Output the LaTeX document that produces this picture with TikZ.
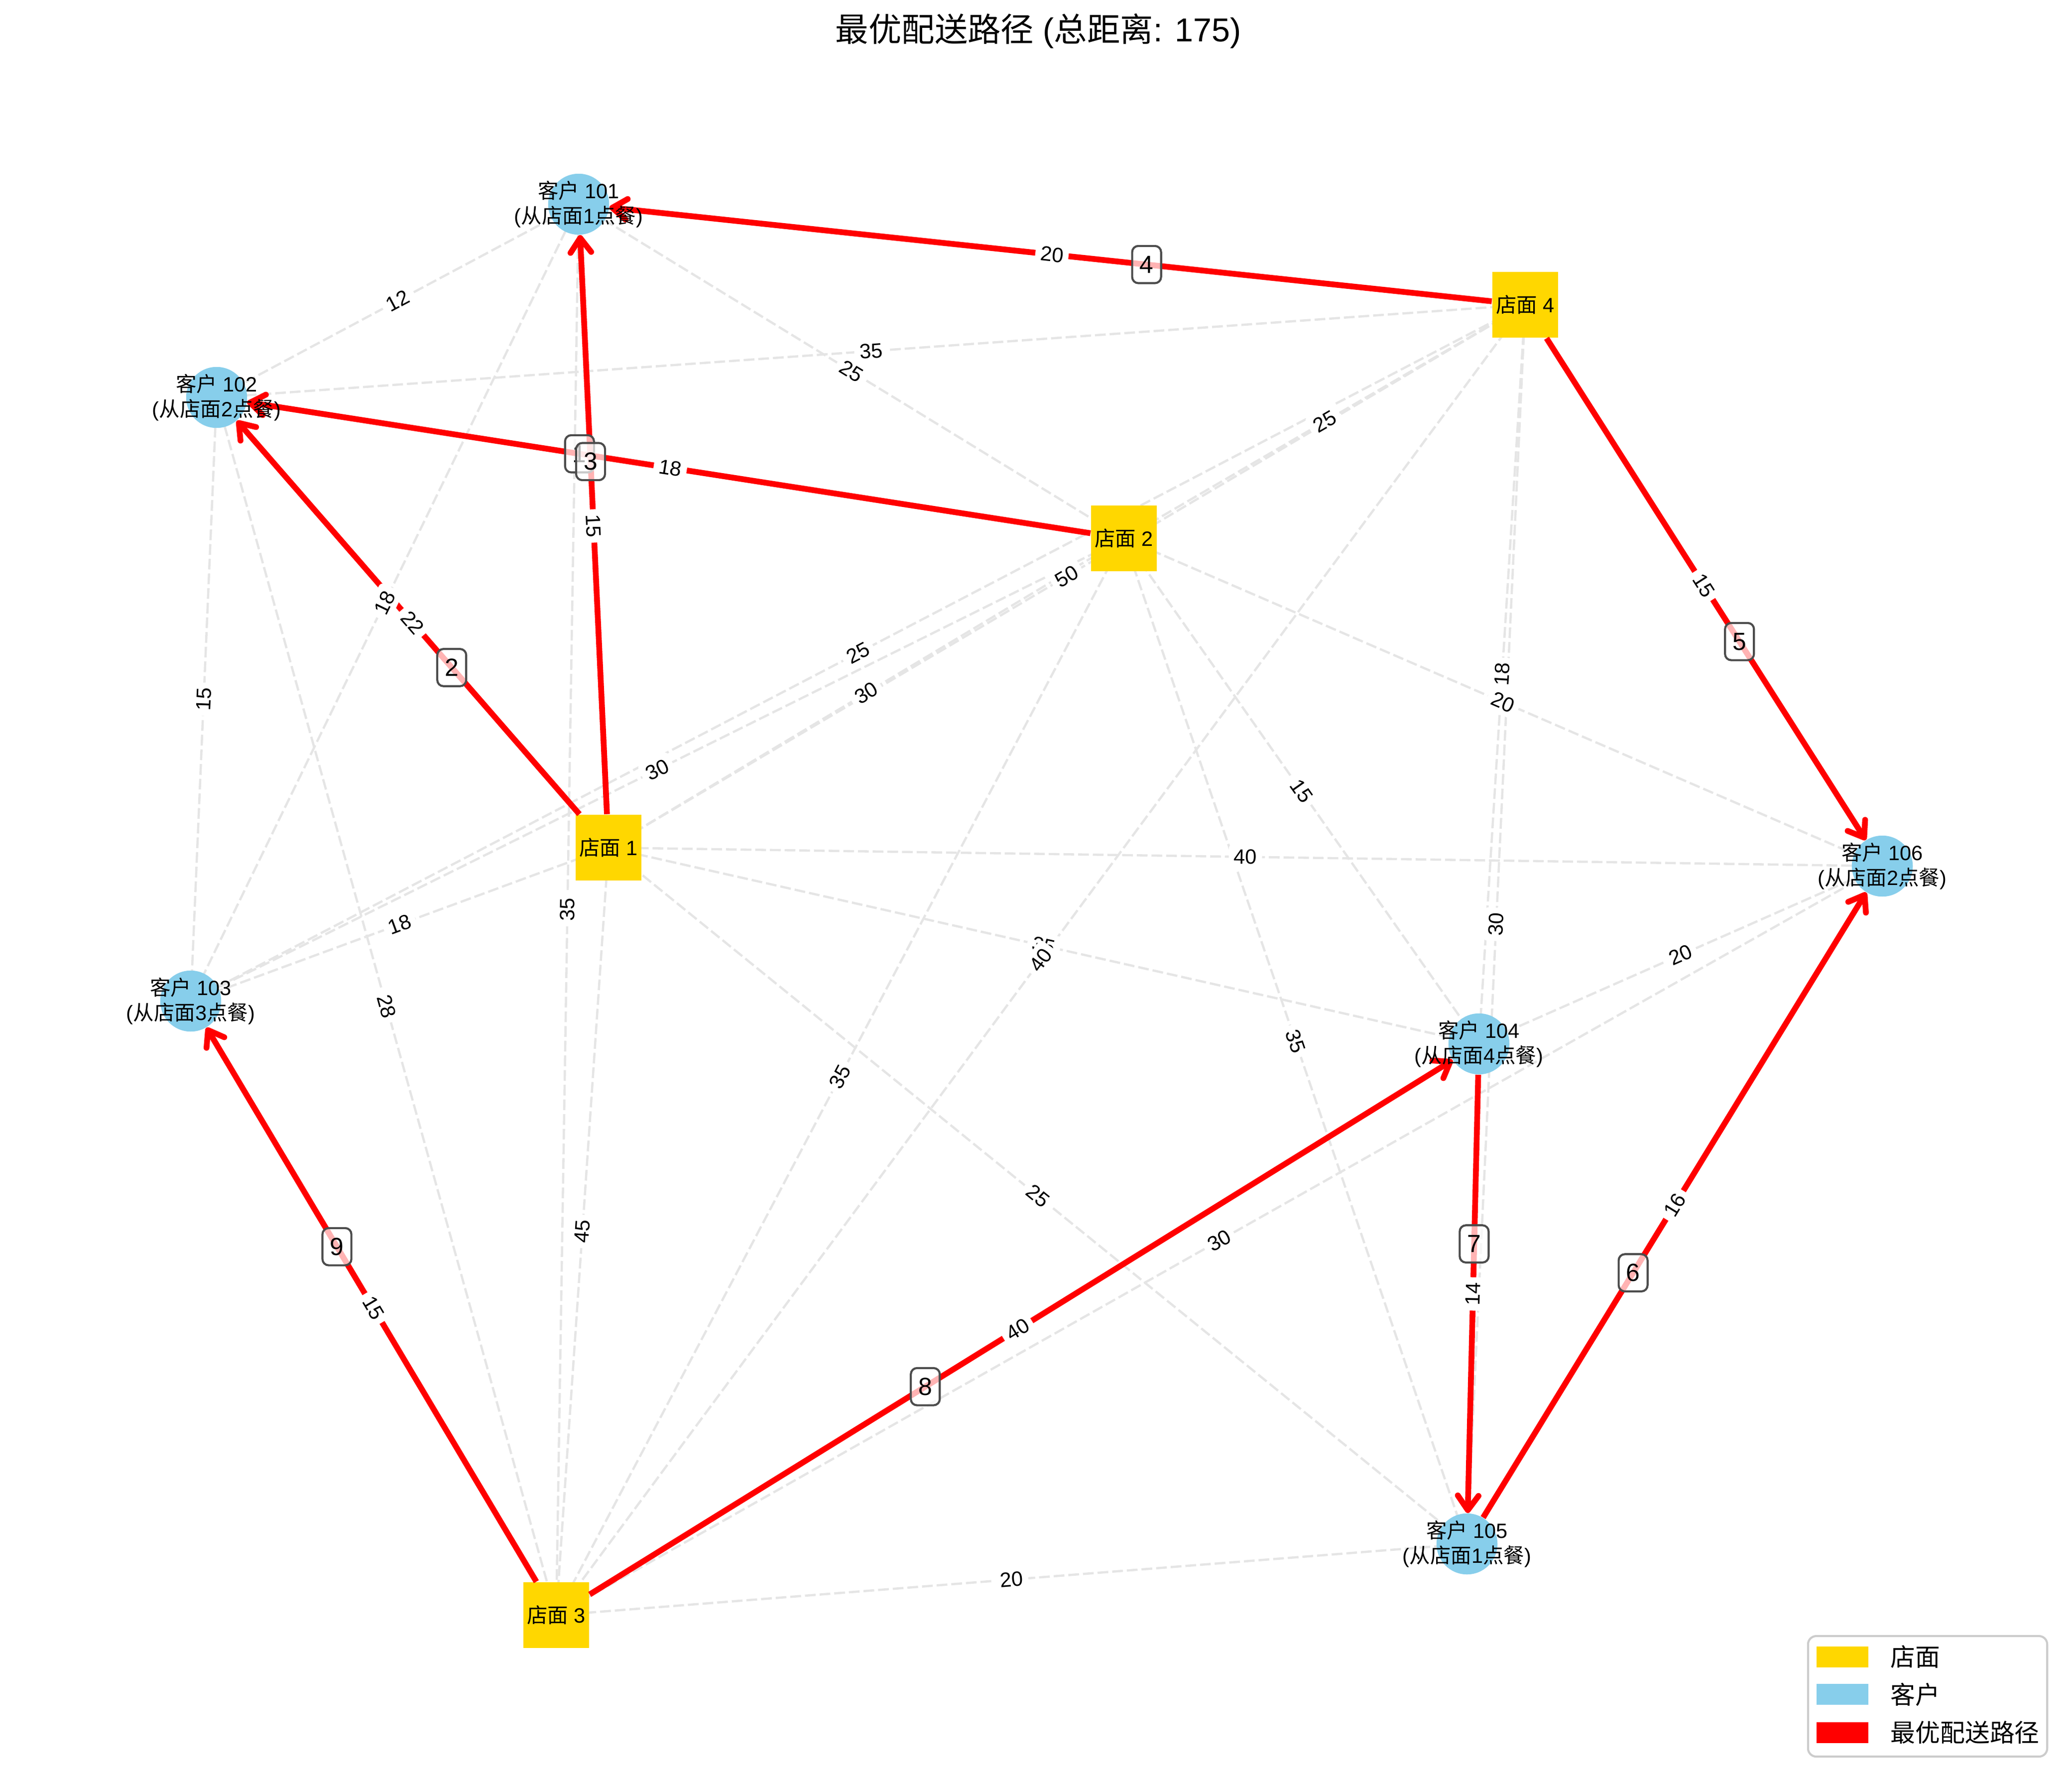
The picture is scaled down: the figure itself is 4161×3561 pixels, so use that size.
\documentclass[tikz,border=0pt]{standalone}
\usepackage{fontspec}
\setmainfont{Liberation Sans}
\newfontfamily\cjk{Noto Sans CJK SC}
\usetikzlibrary{calc,arrows.meta}
\pgfdeclarelayer{bg}
\pgfdeclarelayer{fg}
\pgfsetlayers{bg,main,fg}
\definecolor{storegold}{RGB}{255,215,0}
\definecolor{custblue}{RGB}{135,206,235}
\definecolor{routered}{RGB}{255,0,0}
\newcommand{\zh}[1]{{\cjk #1}}
\tikzset{
    store/.style={rectangle, fill=storegold, minimum size=32pt, inner sep=0pt},
    cust/.style={circle, fill=custblue, minimum size=29.5pt, inner sep=0pt},
    nlabel/.style={align=center, font=\fontsize{10}{12}\selectfont, inner sep=0pt},
    grayline/.style={draw=gray!20, line width=1.1pt, dash pattern=on 5.2pt off 1.9pt},
    route/.style={draw=routered, line width=2.8pt, -{Straight Barb[length=7pt,width=10pt,round]}},
    elabel/.style={midway, sloped, fill=white, inner sep=2.5pt, rounded corners=2pt, font=\fontsize{10}{12}\selectfont},
    stepbox/.style={draw=black!70, line width=1pt, rounded corners=3pt, fill=white, fill opacity=0.7, text opacity=1, font=\fontsize{12}{14}\selectfont, inner sep=0pt, minimum width=14pt, minimum height=18pt},
    legpatch/.style={minimum width=25pt, minimum height=10pt, inner sep=0pt},
    legtext/.style={anchor=west, font=\fontsize{12}{14}\selectfont, inner sep=0pt}
}

\begin{document}
\begin{tikzpicture}[x=0.08467mm, y=-0.08467mm]
\useasboundingbox (0,0) rectangle (4161,3561);

% stores and customers
\node[store] (s1) at (1222,1702) {};
\node[store] (s2) at (2257,1081) {};
\node[store] (s3) at (1117,3243) {};
\node[store] (s4) at (3063,612) {};
\node[cust] (c101) at (1162,410) {};
\node[cust] (c102) at (435,798) {};
\node[cust] (c103) at (383,2010) {};
\node[cust] (c104) at (2970,2096) {};
\node[cust] (c105) at (2946,3100) {};
\node[cust] (c106) at (3780,1739) {};

% all distances, dashed
\foreach \a/\b/\d in {c101/c102/12, c101/s2/25, c102/s4/35, s2/s4/25, s1/s4/50, c103/s4/25,
    s1/s2/30, s2/c103/30, s1/c103/18, c101/c103/18, c102/c103/15, c102/s3/28, c101/s3/35,
    s1/s3/45, s2/s3/35, s1/c104/35, s3/s4/40, s1/c106/40, s1/c105/25, s2/c104/15, s2/c105/35,
    s4/c105/30, s2/c106/20, s4/c104/18, c104/c106/20, s3/c106/30, s3/c105/20}{
  \begin{pgfonlayer}{bg}
    \draw[grayline] (\a.center) -- (\b.center);
  \end{pgfonlayer}
  \begin{pgfonlayer}{fg}
    \path (\a.center) -- (\b.center) node[elabel] {\d};
  \end{pgfonlayer}
}

% best route
\foreach \a/\b/\d in {s2/c102/18, s1/c102/22, s1/c101/15, s4/c101/20, s4/c106/15,
    c105/c106/16, c104/c105/14, s3/c104/40, s3/c103/15}{
  \draw[route] (\a) -- (\b);
  \begin{pgfonlayer}{fg}
    \path (\a.center) -- (\b.center) node[elabel] {\d};
  \end{pgfonlayer}
}

% names
\node[nlabel] (s1t) at (s1) {\zh{店面} 1};
\node[nlabel] (s2t) at (s2) {\zh{店面} 2};
\node[nlabel] (s3t) at (s3) {\zh{店面} 3};
\node[nlabel] (s4t) at (s4) {\zh{店面} 4};
\node[nlabel] (c101t) at (c101) {\zh{客户} 101\\(\zh{从店面}1\zh{点餐})};
\node[nlabel] (c102t) at (c102) {\zh{客户} 102\\(\zh{从店面}2\zh{点餐})};
\node[nlabel] (c103t) at (c103) {\zh{客户} 103\\(\zh{从店面}3\zh{点餐})};
\node[nlabel] (c104t) at (c104) {\zh{客户} 104\\(\zh{从店面}4\zh{点餐})};
\node[nlabel] (c105t) at (c105) {\zh{客户} 105\\(\zh{从店面}1\zh{点餐})};
\node[nlabel] (c106t) at (c106) {\zh{客户} 106\\(\zh{从店面}2\zh{点餐})};

% visiting order
\begin{pgfonlayer}{fg}
\foreach \n/\a/\b in {1/s2/c102, 2/c102/s1, 3/s1/c101, 4/c101/s4, 5/s4/c106,
    6/c106/c105, 7/c105/c104, 8/c104/s3, 9/s3/c103}
  \node[stepbox] (step\n) at ($(\a)!0.6!(\b)$) {\n};
\end{pgfonlayer}

% title
\node[font=\fontsize{16}{19}\selectfont] (title) at (2085,62) {\zh{最优配送路径} (\zh{总距离}: 175)};

% legend
\node[draw=black!20, fill=white, line width=1pt, rounded corners=4pt, minimum width=115.7pt, minimum height=58.3pt] (legend) at (3871,3406) {};
\node[legpatch, fill=storegold] (legstore) at (3700,3327) {};
\node[legtext] (legstoret) at (3796,3327) {\zh{店面}};
\node[legpatch, fill=custblue] (legcust) at (3700,3402) {};
\node[legtext] (legcustt) at (3796,3402) {\zh{客户}};
\node[legpatch, fill=routered] (legroute) at (3700,3479) {};
\node[legtext] (legroutet) at (3796,3479) {\zh{最优配送路径}};
\end{tikzpicture}
\end{document}
